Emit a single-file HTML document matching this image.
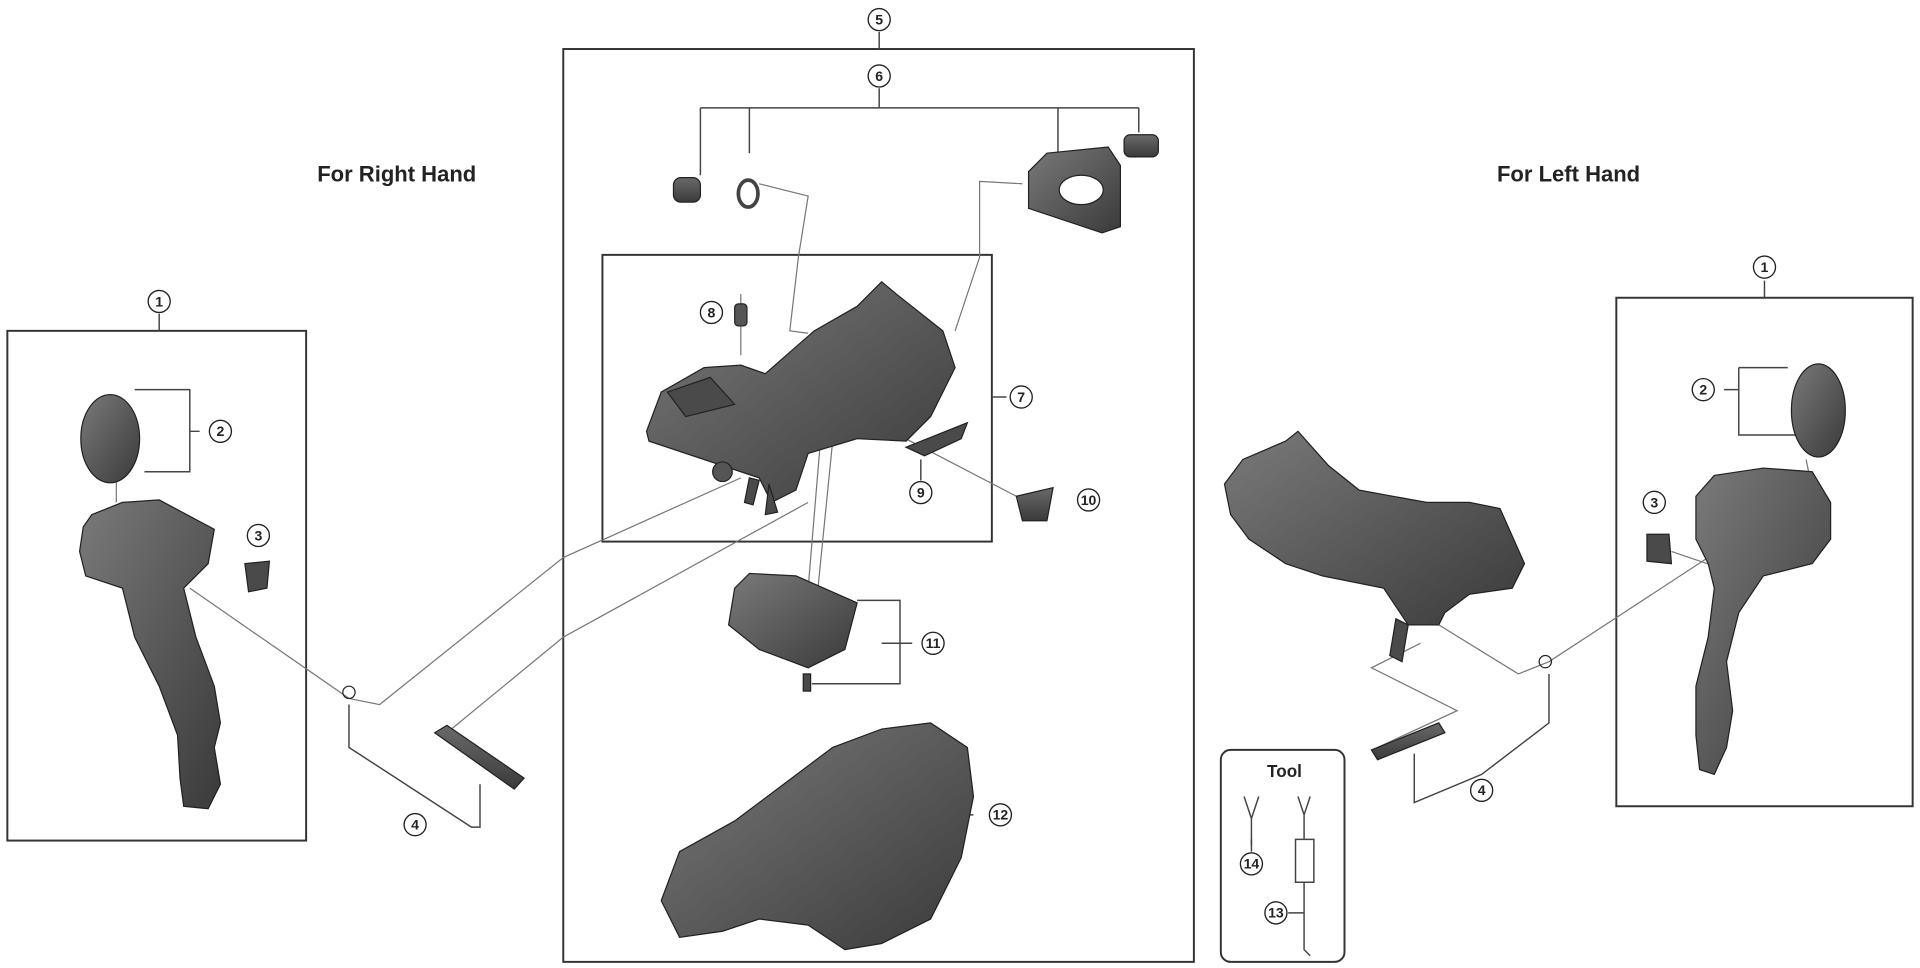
<!DOCTYPE html>
<html><head><meta charset="utf-8"><style>
html,body{margin:0;padding:0;background:#fff;width:1920px;height:968px;overflow:hidden}
svg{display:block}
text{font-family:"Liberation Sans",sans-serif}
</style></head><body>
<svg width="1920" height="968" viewBox="0 0 1568 790" preserveAspectRatio="none" xmlns="http://www.w3.org/2000/svg">
<defs>
<linearGradient id="g1" x1="0" y1="0" x2="1" y2="1"><stop offset="0" stop-color="#7a7a7a"/><stop offset="1" stop-color="#3a3a3a"/></linearGradient>
<linearGradient id="g2" x1="0" y1="0" x2="0" y2="1"><stop offset="0" stop-color="#6a6a6a"/><stop offset="1" stop-color="#3a3a3a"/></linearGradient>
</defs>
<g fill="none" stroke="#333" stroke-width="1.6">
<rect x="460" y="40" width="515" height="745"/>
<rect x="492" y="208" width="318" height="234"/>
<rect x="6" y="270" width="244" height="416"/>
<rect x="1320" y="243" width="242" height="415"/>
<rect x="997" y="612" width="101" height="173" rx="8"/>
</g>
<g fill="none" stroke="#444" stroke-width="1.2">
<path d="M718 26V40M718 72V88M572 88H930M572 88V143M612 88V125M864 88V130M930 88V108"/>
<path d="M810 324H822"/>
<path d="M130 256V270M1441 229V243"/>
<path d="M110 318H155V385H118M163 352H155"/>
<path d="M1420 300H1460M1420 300V355H1470M1420 318H1408"/>
<path d="M752 392V375M720 525H735V490H700M735 525V558H663M745 525H735"/>
<path d="M795 665H785"/>
<path d="M285 575V610L385 675H392V640"/>
<path d="M1155 615V655L1210 632L1265 590V550"/>
<path d="M1022 695V685M1052 745H1065"/>
</g>
<g fill="none" stroke="#777" stroke-width="1">
<path d="M620 150L660 160L652 210L645 270L660 272"/>
<path d="M835 150L800 148L800 210L780 270"/>
<path d="M155 480L285 570L310 575L460 455L605 390"/>
<path d="M365 598L460 520L660 410"/>
<path d="M705 340L830 405"/>
<path d="M670 360L660 480M680 360L668 480"/>
<path d="M605 240V290"/>
<path d="M1160 525L1120 545L1190 580L1125 610"/>
<path d="M1175 510L1240 550L1265 540L1395 455"/>
<path d="M1365 450L1400 462"/>
<path d="M1475 375L1480 400"/>
<path d="M95 410L95 390"/>
</g>
<g font-size="11.5" font-weight="bold" text-anchor="middle" fill="#222">
<g stroke="#222" stroke-width="1.1" fill="#fff">
<circle cx="718" cy="16" r="9"/><circle cx="718" cy="62" r="9"/><circle cx="130" cy="246" r="9"/>
<circle cx="180" cy="352" r="9"/><circle cx="211" cy="437" r="9"/><circle cx="339" cy="673" r="9"/>
<circle cx="581" cy="255" r="9"/><circle cx="834" cy="324" r="9"/><circle cx="752" cy="402" r="9"/>
<circle cx="889" cy="408" r="9"/><circle cx="762" cy="525" r="9"/><circle cx="817" cy="665" r="9"/>
<circle cx="1441" cy="218" r="9"/><circle cx="1391" cy="318" r="9"/><circle cx="1351" cy="410" r="9"/>
<circle cx="1210" cy="645" r="9"/><circle cx="1022" cy="705" r="9"/><circle cx="1042" cy="745" r="9"/>
</g>
<text x="718" y="20">5</text><text x="718" y="66">6</text><text x="130" y="250">1</text>
<text x="180" y="356">2</text><text x="211" y="441">3</text><text x="339" y="677">4</text>
<text x="581" y="259">8</text><text x="834" y="328">7</text><text x="752" y="406">9</text>
<text x="889" y="412">10</text><text x="762" y="529">11</text><text x="817" y="669">12</text>
<text x="1441" y="222">1</text><text x="1391" y="322">2</text><text x="1351" y="414">3</text>
<text x="1210" y="649">4</text><text x="1022" y="709">14</text><text x="1042" y="749">13</text>
</g>
<text x="324" y="148" font-size="18" font-weight="bold" text-anchor="middle" fill="#222">For Right Hand</text>
<text x="1281" y="148" font-size="18" font-weight="bold" text-anchor="middle" fill="#222">For Left Hand</text>
<text x="1049" y="634" font-size="14" font-weight="bold" text-anchor="middle" fill="#222">Tool</text>
<g stroke="#222" stroke-width="1">
<rect x="550" y="145" width="22" height="20" rx="6" fill="url(#g2)"/>
<ellipse cx="611" cy="158" rx="8" ry="11" fill="none" stroke="#444" stroke-width="3"/>
<path d="M840 140L855 125L905 120L915 135L915 185L900 190L840 170Z" fill="url(#g1)"/>
<ellipse cx="883" cy="155" rx="18" ry="12" fill="#fff"/>
<rect x="918" y="110" width="28" height="18" rx="5" fill="url(#g2)"/>
<path d="M528 352L540 320L575 300L605 298L625 305L665 270L700 250L720 230L732 240L770 270L780 300L760 340L740 360L700 358L660 370L650 400L630 410L620 390L590 380L560 370L530 360Z" fill="url(#g1)"/>
<path d="M545 320L580 308L600 330L560 340Z" fill="#4a4a4a"/>
<circle cx="590" cy="385" r="8" fill="#555"/>
<path d="M612 390L608 410L615 412L620 392Z M628 395L625 420L635 418Z" fill="#4a4a4a"/>
<path d="M740 365L790 345L785 358L755 372Z" fill="#4a4a4a"/>
<path d="M830 405L860 398L855 425L835 425Z" fill="url(#g2)"/>
<rect x="600" y="248" width="10" height="18" rx="3" fill="#555"/>
<path d="M600 480L612 468L650 470L700 492L690 530L660 545L620 530L595 510Z" fill="url(#g1)"/>
<rect x="656" y="550" width="6" height="14" fill="#4a4a4a"/>
<path d="M540 735L555 695L600 670L640 640L680 610L720 595L760 590L790 610L795 650L785 700L760 750L720 770L690 775L660 755L620 750L590 760L555 765Z" fill="url(#g1)"/>
<ellipse cx="90" cy="358" rx="24" ry="36" fill="url(#g1)"/>
<path d="M68 430L75 420L100 410L130 408L175 432L170 460L150 480L160 520L175 560L180 590L175 610L180 640L170 660L150 658L147 635L145 600L130 560L110 520L100 480L70 470L65 450Z" fill="url(#g1)"/>
<path d="M200 460L220 458L218 480L203 483Z" fill="#4a4a4a"/>
<path d="M355 598L365 592L428 635L420 644Z" fill="url(#g2)"/>
<circle cx="285" cy="565" r="5" fill="none"/>
<path d="M1000 395L1015 375L1050 360L1060 352L1085 380L1110 400L1165 410L1200 410L1225 415L1245 460L1235 480L1200 485L1180 500L1175 510L1150 510L1130 480L1080 470L1050 460L1020 440L1005 420Z" fill="url(#g1)"/>
<path d="M1140 505L1135 535L1145 540L1150 510Z" fill="#4a4a4a"/>
<path d="M1120 612L1175 590L1180 598L1125 620Z" fill="url(#g2)"/>
<circle cx="1262" cy="540" r="5" fill="none"/>
<ellipse cx="1485" cy="335" rx="22" ry="38" fill="url(#g1)"/>
<path d="M1385 405L1400 388L1440 382L1480 385L1495 410L1495 440L1480 460L1440 470L1420 500L1410 540L1415 580L1410 610L1400 632L1388 628L1385 600L1385 560L1395 520L1400 480L1395 460L1385 440Z" fill="url(#g1)"/>
<path d="M1345 436L1363 436L1365 460L1345 458Z" fill="#4a4a4a"/>
</g>
<g fill="none" stroke="#444" stroke-width="1.2">
<path d="M1016 650L1022 668L1028 650M1022 668V690"/>
<path d="M1060 650L1065 665L1070 650M1065 665V685M1058 685H1073V720H1058ZM1065 720V775L1070 780"/>
</g>
</svg>
</body></html>
